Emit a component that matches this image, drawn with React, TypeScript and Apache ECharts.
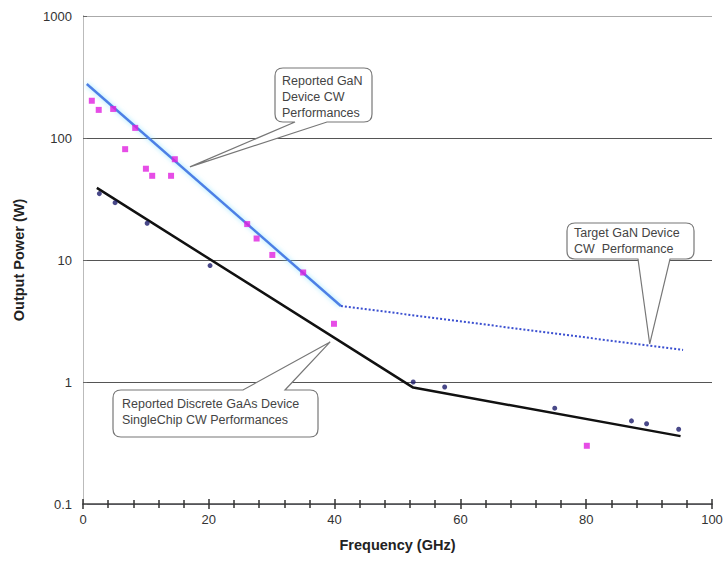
import React, { useEffect, useRef } from "react";
import * as echarts from "echarts";

// Reported GaN device CW performances (magenta squares)
const ganFreq = [1.4, 2.5, 4.8, 8.3, 6.7, 10.0, 11.0, 14.0, 14.6, 26.1, 27.6, 30.1, 35.0, 39.9, 80.1];
const ganPower = [202, 170, 173, 121, 81, 56, 49, 49, 67, 19.7, 15, 11, 7.9, 3.0, 0.3];

// Reported discrete GaAs device single chip CW performances (navy points)
const gaasFreq = [2.6, 5.1, 10.2, 20.2, 52.5, 57.5, 75.0, 87.2, 89.6, 94.7];
const gaasPower = [35, 29.5, 20, 9, 1.0, 0.91, 0.61, 0.48, 0.455, 0.41];

// Trend lines
const ganTrendFreq = [0.6, 41];
const ganTrendPower = [277, 4.2];
const targetFreq = [41, 95.4];
const targetPower = [4.2, 1.83];
const gaasTrendFreq = [2.2, 52.5, 95];
const gaasTrendPower = [39, 0.9, 0.36];

const yTicks = [0.1, 1, 10, 100, 1000];

// Callout annotations
const calloutTexts = [
  "Reported GaN\nDevice CW\nPerformances",
  "Reported Discrete GaAs Device\nSingleChip CW Performances",
  "Target GaN Device\nCW  Performance",
];
const calloutTips = [
  [17, 58],
  [39.3, 2.13],
  [90.1, 2.05],
];

const zip = (a: number[], b: number[]) => a.map((v, i) => [v, b[i]]);

function calloutPath(
  x0: number, y0: number, x1: number, y1: number, r: number,
  bL: number, bR: number, tx: number, ty: number, side: "top" | "bottom"
): string {
  if (side === "bottom") {
    return `M${x0 + r},${y0} L${x1 - r},${y0} Q${x1},${y0} ${x1},${y0 + r} L${x1},${y1 - r} Q${x1},${y1} ${x1 - r},${y1} L${bR},${y1} L${tx},${ty} L${bL},${y1} L${x0 + r},${y1} Q${x0},${y1} ${x0},${y1 - r} L${x0},${y0 + r} Q${x0},${y0} ${x0 + r},${y0} Z`;
  }
  return `M${x0 + r},${y0} L${bL},${y0} L${tx},${ty} L${bR},${y0} L${x1 - r},${y0} Q${x1},${y0} ${x1},${y0 + r} L${x1},${y1 - r} Q${x1},${y1} ${x1 - r},${y1} L${x0 + r},${y1} Q${x0},${y1} ${x0},${y1 - r} L${x0},${y0 + r} Q${x0},${y0} ${x0 + r},${y0} Z`;
}

export default function App() {
  const ref = useRef<HTMLDivElement>(null);
  useEffect(() => {
    if (!ref.current) return;
    const chart = echarts.init(ref.current, null, { renderer: "svg" });
    const font = '"Liberation Sans", Arial, sans-serif';
    chart.setOption({
      animation: false,
      backgroundColor: "#fff",
      grid: { left: 83, top: 16, right: 14, bottom: 62 },
      xAxis: [
        {
          type: "value",
          min: 0,
          max: 100,
          interval: 20,
          name: "Frequency (GHz)",
          nameLocation: "middle",
          nameGap: 33,
          nameTextStyle: { fontFamily: font, fontSize: 14.5, fontWeight: "bold", color: "#222" },
          splitLine: { show: false },
          axisLine: { show: true, lineStyle: { color: "#444", width: 1.5 } },
          axisTick: { show: true, length: 5, lineStyle: { color: "#333", width: 1.5 } },
          minorTick: { show: true, splitNumber: 5, length: 4, lineStyle: { color: "#333", width: 1.5 } },
          axisLabel: { show: true, fontFamily: font, fontSize: 13, color: "#333", margin: 9 },
        },
        {
          type: "value",
          min: 0,
          max: 100,
          interval: 20,
          position: "bottom",
          splitLine: { show: false },
          axisTick: { show: true, inside: true, length: 5, lineStyle: { color: "#333", width: 1.5 } },
          minorTick: { show: true, splitNumber: 5, length: 4, lineStyle: { color: "#333", width: 1.5 } },
          axisLabel: { show: false },
        },
      ],
      yAxis: [
        {
          type: "log",
          min: 0.1,
          max: 1000,
          name: "Output Power (W)",
          nameLocation: "middle",
          nameGap: 57,
          nameTextStyle: { fontFamily: font, fontSize: 14.5, fontWeight: "bold", color: "#222" },
          axisLine: { show: true, lineStyle: { color: "#888", width: 1 } },
          axisTick: { show: true, inside: true, length: 4, lineStyle: { color: "#666" } },
          axisLabel: {
            show: true,
            fontFamily: font,
            fontSize: 13,
            color: "#333",
            margin: 11,
            formatter: (v: number) => {
              const t = yTicks.find((k) => Math.abs(Math.log10(k) - Math.log10(v)) < 1e-6);
              return t !== undefined ? String(t) : "";
            },
          },
          splitLine: { show: true, lineStyle: { color: ["#555", "#555", "#555", "#555", "#aaa"], width: 1.2 } },
        },
        {
          type: "log",
          min: 0.1,
          max: 1000,
          position: "right",
          axisLine: { show: true, lineStyle: { color: "#bbb", width: 1 } },
          axisTick: { show: false },
          axisLabel: { show: false },
          splitLine: { show: false },
        },
      ],
      series: [
        {
          type: "line",
          data: zip(ganTrendFreq, ganTrendPower),
          showSymbol: false,
          lineStyle: { color: "#4d7fe6", width: 2.5, shadowColor: "rgba(120,220,255,0.8)", shadowBlur: 5 },
          z: 3,
        },
        {
          type: "line",
          data: zip(targetFreq, targetPower),
          showSymbol: false,
          lineStyle: { color: "#3a4fd0", width: 2, type: [2, 2] },
          z: 3,
        },
        {
          type: "line",
          data: zip(gaasTrendFreq, gaasTrendPower),
          showSymbol: false,
          lineStyle: { color: "#111", width: 2.5 },
          z: 3,
        },
        {
          type: "scatter",
          data: zip(ganFreq, ganPower),
          symbol: "rect",
          symbolSize: 6,
          itemStyle: { color: "#e020e0" },
          z: 4,
        },
        {
          type: "scatter",
          data: zip(gaasFreq, gaasPower),
          symbol: "circle",
          symbolSize: 5,
          itemStyle: { color: "#1c1c6c" },
          z: 4,
        },
      ],
    });

    const tips = calloutTips.map((p) => chart.convertToPixel({ xAxisIndex: 0, yAxisIndex: 0 }, p) as number[]);
    const boxes = [
      { x0: 275, y0: 68, x1: 372, y1: 122, bL: 295, bR: 327, side: "bottom" as const, tx: 282, ty: 73 },
      { x0: 113, y0: 390, x1: 318, y1: 437, bL: 243, bR: 285, side: "top" as const, tx: 122, ty: 396 },
      { x0: 567, y0: 223, x1: 694, y1: 259, bL: 638, bR: 670, side: "bottom" as const, tx: 574, ty: 225 },
    ];
    const graphics: any[] = [];
    boxes.forEach((b, i) => {
      const name = "callout" + i;
      const d = calloutPath(b.x0, b.y0, b.x1, b.y1, 8, b.bL, b.bR, tips[i][0], tips[i][1], b.side);
      echarts.graphic.registerShape(name, (echarts.graphic as any).extendPath(d, {}));
      graphics.push({
        type: name,
        x: 0,
        y: 0,
        z: 100,
        style: { fill: "#fff", stroke: "#777", lineWidth: 1.2 },
      });
      graphics.push({
        type: "text",
        x: b.tx,
        y: b.ty,
        z: 101,
        style: {
          text: calloutTexts[i],
          font: `12.5px ${font}`,
          fill: "#444",
          lineHeight: 16,
          textVerticalAlign: "top",
        },
      });
    });
    chart.setOption({ graphic: graphics });

    return () => chart.dispose();
  }, []);
  return <div ref={ref} style={{ position: "fixed", left: 0, top: 0, width: 726, height: 566 }} />;
}
